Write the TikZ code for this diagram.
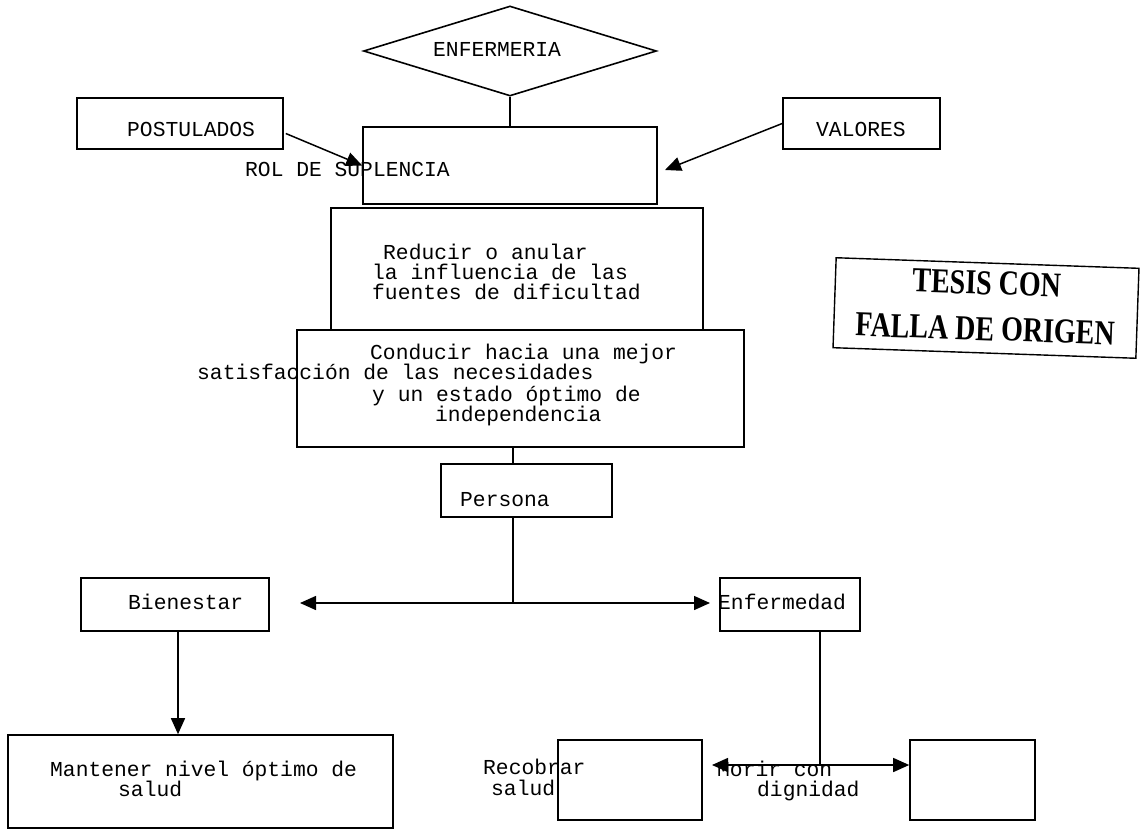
\documentclass[tikz,border=0pt]{standalone}
\usepackage{fontspec}
\setmonofont{Liberation Mono}
\newfontfamily\stampfont{Liberation Serif}
\usetikzlibrary{shapes.geometric,arrows.meta,calc}
\tikzset{
  box/.style={draw, line width=1.6pt, inner sep=0pt, rectangle},
  lbl/.style={anchor=base west, inner sep=0pt, font=\ttfamily\fontsize{21.3}{20.5}\selectfont},
  conn/.style={line width=1.5pt},
  arr/.style={line width=1.5pt, -{Triangle[length=16pt,width=14pt]}},
}
\begin{document}
\begin{tikzpicture}[x=1pt,y=-1pt]
\useasboundingbox (0,0) rectangle (1146,830);
% shapes
\node[draw, diamond, line width=1.6pt, inner sep=0pt, minimum width=293pt, minimum height=90pt] (dia) at (510,51) {};
\node[box, minimum width=206pt, minimum height=51pt] (post) at (180,123.5) {};
\node[box, minimum width=157pt, minimum height=51pt] (val) at (861.5,123.5) {};
\node[box, minimum width=294pt, minimum height=77pt] (rol) at (510,165.5) {};
\node[box, minimum width=372pt, minimum height=122pt] (red) at (517,269) {};
\node[box, minimum width=447pt, minimum height=117pt] (cond) at (520.5,388.5) {};
\node[box, minimum width=171pt, minimum height=53pt] (pers) at (526.5,490.5) {};
\node[box, minimum width=188pt, minimum height=53pt] (bien) at (175,604.5) {};
\node[box, minimum width=140pt, minimum height=53pt] (enf) at (790,604.5) {};
\node[box, minimum width=385pt, minimum height=93pt] (mant) at (200.5,781.5) {};
\node[box, minimum width=144pt, minimum height=80pt] (reco) at (630,780) {};
\node[box, minimum width=125pt, minimum height=80pt] (mor) at (972.5,780) {};
% stamp
\node[draw, line width=1.4pt, rotate=-2, minimum width=303pt, minimum height=90pt, inner sep=0pt] (stamp) at (986,308) {};
\node[rotate=-2, align=center, font=\stampfont\bfseries\fontsize{35}{46}\selectfont] (stamptxt) at (986,306) {\scalebox{0.8}[1]{TESIS CON}\\\scalebox{0.8}[1]{FALLA DE ORIGEN}};
% texts
\node[lbl] (t1) at (433,56) {ENFERMERIA};
\node[lbl] (t2) at (127,136) {POSTULADOS};
\node[lbl] (t3) at (816,136) {VALORES};
\node[lbl] (t4) at (245,176) {ROL DE SUPLENCIA};
\node[lbl] (t5) at (383,259) {Reducir o anular};
\node[lbl] (t6) at (372,279) {la influencia de las};
\node[lbl] (t7) at (372,299) {fuentes de dificultad};
\node[lbl] (t8) at (370,359) {Conducir hacia una mejor};
\node[lbl] (t9) at (197,379) {satisfacción de las necesidades};
\node[lbl] (t10) at (372,401) {y un estado óptimo de};
\node[lbl] (t11) at (435,421) {independencia};
\node[lbl] (t12) at (460,506) {Persona};
\node[lbl] (t13) at (128,609) {Bienestar};
\node[lbl] (t14) at (718,609) {Enfermedad};
\node[lbl] (t15) at (50,776) {Mantener nivel óptimo de};
\node[lbl] (t16) at (118,796) {salud};
\node[lbl] (t17) at (483,774) {Recobrar};
\node[lbl] (t18) at (491,795) {salud};
\node[lbl] (t19) at (717,776) {Morir con};
\node[lbl] (t20) at (757,796) {dignidad};
% connectors
\coordinate (j) at (513,603);
\coordinate (bl) at (300,603);
\coordinate (br) at (710,603);
\coordinate (k) at (820,765);
\coordinate (kl) at (712,765);
\coordinate (vt) at (665,170);
\draw[conn] (dia.south) -- (rol.north -| dia.south);
\draw[arr] ($(post.east)+(2,10)$) -- (rol.west);
\draw[arr] ($(val.west)+(0,0)$) -- (vt);
\draw[conn] (cond.south -| j) -- (pers.north -| j);
\draw[conn] (pers.south -| j) -- (j);
\draw[arr] (j) -- (bl);
\draw[arr] (j) -- (br);
\draw[arr] (bien.south -| 178,0) -- (mant.north -| 178,0);
\draw[conn] (enf.south -| k) -- (k);
\draw[arr] (k) -- (kl);
\draw[arr] (k) -- (k -| mor.west);
\end{tikzpicture}
\end{document}
